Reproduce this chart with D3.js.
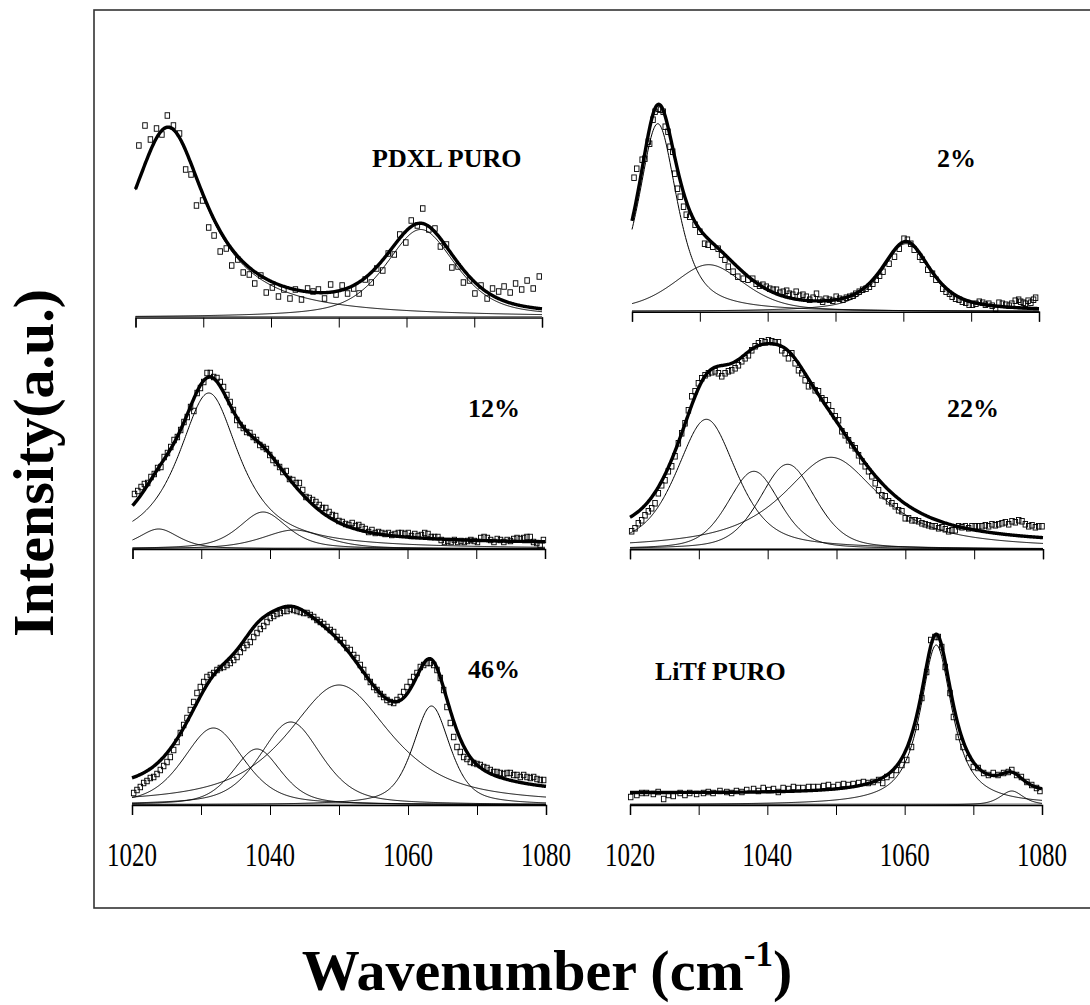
<!DOCTYPE html>
<html><head><meta charset="utf-8">
<script src="https://cdn.jsdelivr.net/npm/d3@7"></script>
<style>body{margin:0;background:#fff}svg{display:block}</style>
</head><body>
<svg id="c" width="1090" height="1005"></svg>
<script>
// ---------------- DATA ----------------
const panelNames = ["PDXL PURO", "2%", "12%", "22%", "46%", "LiTf PURO"];
const xTicks = [1020, 1030, 1040, 1050, 1060, 1070, 1080];
const xTickLabels = [1020, 1040, 1060, 1080];
const yTitle = "Intensity(a.u.)";
const xTitleMain = "Wavenumber (cm";
const xTitleSup = "-1";

// fitted bands: [centre (cm-1), height, half width, lorentzian fraction]
const bandsPDXL = [[1024.8, 189, 6.9, 1.0], [1062.1, 88, 6.2, 0.6]];
const bands2 = [[1023.8, 188, 3.4, 0.7], [1031.3, 47, 6.3, 0.5], [1060.4, 68, 4.3, 0.7]];
const bands12 = [[1031.1, 156, 5.4, 0.9], [1023.8, 20, 3.5, 0.6], [1039.0, 37, 4.2, 0.6], [1043.5, 19, 5.5, 0.6]];
const bands22 = [[1031.1, 130, 5.2, 0.6], [1038.0, 78, 4.5, 0.4], [1042.9, 85, 4.8, 0.4], [1049.2, 92, 8.5, 0.9]];
const bands46 = [[1031.8, 77, 5.2, 0.5], [1038.1, 56, 4.2, 0.5], [1043.0, 83, 5.3, 0.5], [1050.0, 120, 9.0, 0.8], [1063.4, 99, 3.2, 0.6]];
const bandsLiTf = [[1064.6, 160, 2.8, 0.9], [1075.6, 14, 2.0, 0.6]];
// fit background at 1020 and 1080
const bgPDXL = [0, 0], bg2 = [0, 0], bg12 = [5, 5], bg22 = [6, 4], bg46 = [8, 7], bgLiTf = [12, 10];

// measured points
const ptsPDXL = [[1020.5,172],[1021.4,192],[1022.2,178],[1023.1,189],[1023.9,183],[1024.7,202],[1025.6,192],[1026.5,184],[1027.4,148],[1028.2,143],[1029.0,112],[1029.9,117],[1030.8,90],[1031.6,82],[1032.5,66],[1033.4,69],[1034.2,52],[1035.1,58],[1035.9,45],[1036.8,43],[1037.6,34],[1038.5,42],[1039.3,25],[1040.2,30],[1041.1,21],[1041.9,28],[1042.8,19],[1043.6,28],[1044.5,18],[1045.4,29],[1046.2,26],[1047.0,28],[1047.9,19],[1048.8,33],[1049.6,23],[1050.5,32],[1051.3,24],[1052.2,29],[1053.0,24],[1053.9,38],[1054.8,35],[1055.6,49],[1056.5,47],[1057.3,64],[1058.2,63],[1059.0,83],[1059.9,75],[1060.7,97],[1061.6,92],[1062.4,109],[1063.3,88],[1064.2,89],[1065.0,71],[1065.9,73],[1066.7,50],[1067.6,51],[1068.4,35],[1069.3,37],[1070.1,24],[1071.0,32],[1071.9,19],[1072.7,29],[1073.6,26],[1074.4,31],[1075.3,25],[1076.1,34],[1077.0,28],[1077.8,37],[1078.7,29],[1079.6,41]];
const pts2 = [[1020.3,134],[1020.7,143],[1021.5,152],[1021.9,153],[1022.4,170],[1022.6,168],[1023.1,192],[1023.4,200],[1023.9,203],[1024.2,202],[1024.6,200],[1024.9,185],[1025.3,180],[1025.6,165],[1026.0,160],[1026.3,138],[1026.7,123],[1027.1,115],[1027.6,105],[1028.0,97],[1028.5,95],[1029.3,87],[1030.0,80],[1030.7,68],[1031.2,67],[1031.9,65],[1032.7,63],[1033.2,57],[1033.7,52],[1034.2,45],[1034.9,40],[1035.6,35],[1036.4,33],[1037.1,32],[1037.8,33],[1038.3,28],[1038.8,26],[1039.3,27],[1039.8,25],[1040.3,23],[1040.8,22],[1041.3,22],[1041.8,19],[1042.3,20],[1042.8,21],[1043.2,18],[1043.7,17],[1044.2,20],[1044.7,16],[1045.2,17],[1045.7,15],[1046.2,12],[1046.7,14],[1047.2,18],[1047.7,12],[1048.1,10],[1048.6,13],[1049.1,12],[1049.6,11],[1050.1,15],[1050.6,13],[1051.1,12],[1051.6,14],[1052.1,15],[1052.6,16],[1053.0,18],[1053.5,20],[1054.0,22],[1054.5,23],[1055.0,25],[1055.5,28],[1056.0,32],[1056.5,36],[1057.0,40],[1057.9,48],[1058.7,55],[1059.4,63],[1060.1,73],[1060.6,72],[1061.1,68],[1061.6,62],[1062.4,55],[1062.8,52],[1063.6,42],[1064.3,38],[1064.8,32],[1065.8,23],[1066.3,20],[1066.8,18],[1067.2,15],[1067.7,13],[1068.2,12],[1068.7,10],[1069.2,9],[1069.7,7],[1070.2,7],[1070.7,8],[1071.2,10],[1071.7,9],[1072.1,7],[1072.6,8],[1073.1,6],[1073.6,3],[1074.1,9],[1074.6,8],[1075.1,7],[1075.6,6],[1076.0,8],[1076.5,11],[1077.0,12],[1077.3,10],[1077.7,9],[1078.0,8],[1078.4,11],[1078.8,9],[1079.2,12],[1079.5,14]];
const span12 = [1020.29, 1079.77];
const int12 = [55,58,62,65,66,72,75,81,82,92,96,102,109,112,119,127,132,142,138,156,161,167,176,176,172,171,167,162,154,147,139,129,124,121,117,116,112,109,104,102,100,94,89,86,82,77,78,70,69,66,66,59,52,51,49,47,44,41,41,37,34,33,28,27,25,24,26,23,24,22,20,17,19,16,17,16,15,16,14,15,16,16,15,16,13,15,13,14,16,15,12,12,12,9,7,8,7,9,7,8,7,8,9,8,7,11,12,11,9,7,10,9,7,9,8,10,11,10,11,12,12,7,6,4,9];
const span22 = [1020.24, 1079.86];
const int22 = [18,21,26,29,34,38,41,46,56,64,69,78,83,93,106,116,126,139,153,158,166,171,174,176,177,178,176,173,176,178,179,181,184,188,191,194,199,203,206,208,207,209,208,207,207,199,196,191,196,186,179,176,169,163,164,159,158,151,149,144,138,133,129,118,114,109,104,101,94,88,83,78,73,66,59,54,53,48,46,43,39,38,31,31,29,29,28,26,25,24,23,23,21,22,20,18,19,19,23,22,23,21,23,23,23,23,24,23,25,24,25,26,27,25,28,27,29,28,25,23,24,22,23,23];
const span46 = [1020.24, 1079.66];
const int46 = [12,15,18,22,24,27,28,31,35,39,43,48,55,63,72,80,87,95,103,112,118,123,128,130,132,135,137,138,140,142,145,148,153,157,160,163,168,172,176,179,183,187,189,191,192,194,194,196,195,194,193,192,192,190,188,185,183,181,178,175,173,168,165,162,157,155,150,147,140,135,128,123,118,115,111,108,105,103,102,105,108,113,118,123,128,132,138,140,142,142,140,135,127,115,98,82,68,58,53,48,46,43,42,41,40,38,37,35,33,33,32,31,32,32,30,30,28,30,28,27,28,26,25,25];
const ptsLiTf = [[1020.1,8],[1021.0,10],[1021.7,12],[1022.4,12],[1023.4,11],[1024.1,13],[1024.9,6],[1025.6,10],[1026.3,9],[1027.3,12],[1028.0,10],[1028.7,12],[1029.7,11],[1030.7,12],[1031.4,13],[1032.1,12],[1033.1,14],[1034.1,13],[1034.8,12],[1035.5,14],[1036.3,13],[1037.0,15],[1038.0,16],[1038.7,14],[1039.4,17],[1040.2,15],[1040.9,16],[1041.6,13],[1042.3,17],[1043.1,16],[1043.8,18],[1044.5,17],[1045.2,17],[1046.0,18],[1046.7,18],[1047.4,18],[1048.2,19],[1048.9,20],[1049.6,18],[1050.3,20],[1051.1,21],[1051.8,20],[1052.5,21],[1053.3,22],[1054.0,23],[1054.7,22],[1055.4,23],[1056.2,25],[1056.8,22],[1057.4,28],[1058.1,30],[1058.8,35],[1059.6,40],[1060.3,45],[1061.0,58],[1061.7,78],[1062.5,107],[1063.2,133],[1063.8,165],[1064.4,168],[1064.9,168],[1065.4,158],[1065.9,138],[1066.6,112],[1067.1,88],[1067.8,68],[1068.5,58],[1069.3,47],[1070.0,38],[1070.7,37],[1071.5,32],[1072.2,30],[1072.9,32],[1073.6,30],[1074.4,32],[1075.1,33],[1075.6,35],[1076.3,30],[1077.0,28],[1077.8,23],[1078.5,20],[1079.2,17],[1079.7,14]];

// ---------------- LAYOUT ----------------
function gridPts(span, vals) {
  const n = vals.length;
  return vals.map((v, i) => [span[0] + i * (span[1] - span[0]) / (n - 1), v]);
}
const panelData = [
  {bands: bandsPDXL, bg: bgPDXL, pts: ptsPDXL},
  {bands: bands2, bg: bg2, pts: pts2},
  {bands: bands12, bg: bg12, pts: gridPts(span12, int12)},
  {bands: bands22, bg: bg22, pts: gridPts(span22, int22)},
  {bands: bands46, bg: bg46, pts: gridPts(span46, int46)},
  {bands: bandsLiTf, bg: bgLiTf, pts: ptsLiTf}
];
const layout = [
  {x0: 135.5, x1: 542, ay: 317.5, lx: 372, ly: 167, labels: false},
  {x0: 632, x1: 1039, ay: 311.7, lx: 937, ly: 167, labels: false},
  {x0: 132.5, x1: 545, ay: 549, lx: 468, ly: 417, labels: false},
  {x0: 630, x1: 1043, ay: 549.3, lx: 947, ly: 417, labels: false},
  {x0: 132, x1: 546, ay: 805, lx: 468, ly: 678, labels: true},
  {x0: 630, x1: 1042, ay: 805, lx: 655, ly: 680, labels: true}
];
const PH = 220;
const SERIF = "'Liberation Serif','Times New Roman',serif";

function pv(x, b) {
  const t = (x - b[0]) / b[2];
  return b[1] * (b[3] / (1 + t * t) + (1 - b[3]) * Math.exp(-Math.LN2 * t * t));
}
function bgAt(x, bg) { return bg[0] + (bg[1] - bg[0]) * (x - 1020) / 60; }

const svg = d3.select("#c");
svg.append("rect").attr("width", 1090).attr("height", 1005).attr("fill", "#fff");

svg.append("rect").attr("x", 94).attr("y", 10).attr("width", 1000).attr("height", 898)
  .attr("fill", "none").attr("stroke", "#333").attr("stroke-width", 1.6);

const grid = d3.range(1020, 1080.0001, 0.1);

panelData.forEach((pd, i) => {
  const L = layout[i];
  const x = d3.scaleLinear().domain([1020, 1080]).range([L.x0, L.x1]);
  const y = d3.scaleLinear().domain([0, PH]).range([L.ay, L.ay - PH]);
  const g = svg.append("g");

  const ax = d3.axisBottom(x).tickValues(xTicks).tickSize(10).tickFormat("");
  const axg = g.append("g").attr("transform", `translate(0,${L.ay})`).call(ax);
  axg.select(".domain").attr("stroke", "#000").attr("stroke-width", 1.5);
  axg.selectAll(".tick line").attr("stroke", "#000").attr("stroke-width", 1);

  if (L.labels) {
    g.selectAll("text.tl").data(xTickLabels).enter().append("text")
      .attr("class", "tl")
      .attr("x", d => x(d)).attr("y", 866)
      .attr("text-anchor", "middle")
      .attr("font-family", SERIF).attr("font-size", 34)
      .attr("textLength", 50).attr("lengthAdjust", "spacingAndGlyphs")
      .text(d => d);
  }

  const line = d3.line().x(d => x(d[0])).y(d => y(d[1]));

  g.append("path").datum(grid.map(v => [v, 0.8]))
    .attr("d", line).attr("fill", "none").attr("stroke", "#777").attr("stroke-width", 1.2);

  pd.bands.forEach(b => {
    g.append("path").datum(grid.map(v => [v, pv(v, b)]))
      .attr("d", line).attr("fill", "none").attr("stroke", "#000").attr("stroke-width", 1);
  });

  g.append("path").datum(grid.map(v => [v, bgAt(v, pd.bg) + d3.sum(pd.bands, b => pv(v, b))]))
    .attr("d", line).attr("fill", "none").attr("stroke", "#000").attr("stroke-width", 3.4)
    .attr("stroke-linejoin", "round");

  g.selectAll("rect.pt").data(pd.pts).enter().append("rect")
    .attr("class", "pt")
    .attr("x", d => x(d[0]) - 2.25).attr("y", d => y(d[1]) - 2.75)
    .attr("width", 4.5).attr("height", 5.5)
    .attr("fill", "none").attr("stroke", "#000").attr("stroke-width", 0.9);

  g.append("text").attr("x", L.lx).attr("y", L.ly)
    .attr("font-family", SERIF).attr("font-weight", "bold").attr("font-size", 26)
    .text(panelNames[i]);
});

svg.append("text")
  .attr("transform", "translate(53,463) rotate(-90)")
  .attr("text-anchor", "middle")
  .attr("font-family", SERIF).attr("font-weight", "bold").attr("font-size", 58)
  .text(yTitle);

const xt = svg.append("text").attr("x", 547).attr("y", 990)
  .attr("text-anchor", "middle")
  .attr("font-family", SERIF).attr("font-weight", "bold").attr("font-size", 58);
xt.append("tspan").text(xTitleMain);
xt.append("tspan").attr("font-size", 35).attr("dy", -24).text(xTitleSup);
xt.append("tspan").attr("dy", 24).text(")");
</script>
</body></html>
